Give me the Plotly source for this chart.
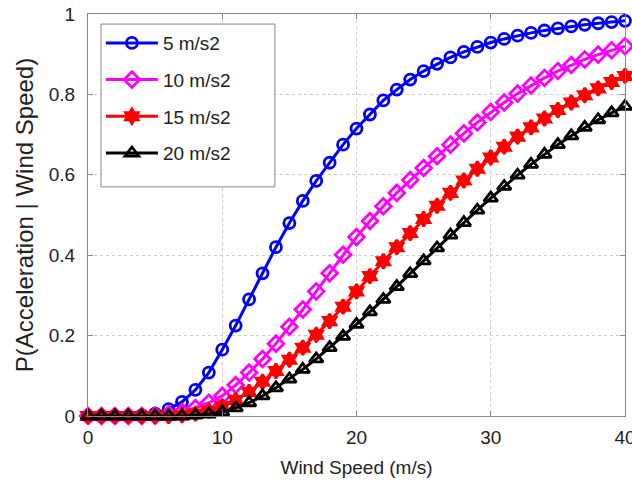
import plotly.graph_objects as go

wind_speed = list(range(0, 41))

acc_5 = [0, 0, 0, 0, 0.002, 0.006, 0.017, 0.035, 0.065, 0.108, 0.165,
         0.225, 0.29, 0.355, 0.42, 0.48, 0.535, 0.585, 0.63, 0.675, 0.715,
         0.75, 0.785, 0.812, 0.837, 0.858, 0.876, 0.892, 0.906, 0.918, 0.929,
         0.938, 0.946, 0.953, 0.959, 0.964, 0.969, 0.973, 0.977, 0.98, 0.983]

acc_10 = [0, 0, 0, 0, 0, 0.001, 0.004, 0.01, 0.02, 0.033, 0.05,
          0.077, 0.108, 0.142, 0.18, 0.222, 0.265, 0.31, 0.355, 0.401, 0.445,
          0.485, 0.522, 0.555, 0.587, 0.617, 0.646, 0.675, 0.703, 0.73, 0.756,
          0.78, 0.802, 0.822, 0.841, 0.858, 0.873, 0.887, 0.899, 0.91, 0.92]

acc_15 = [0, 0, 0, 0, 0, 0, 0, 0.002, 0.006, 0.013, 0.024,
          0.04, 0.06, 0.085, 0.112, 0.14, 0.17, 0.202, 0.236, 0.272, 0.31,
          0.348, 0.385, 0.42, 0.455, 0.49, 0.523, 0.555, 0.586, 0.615, 0.643,
          0.67, 0.695, 0.718, 0.74, 0.761, 0.78, 0.798, 0.815, 0.831, 0.846]

acc_20 = [0, 0, 0, 0, 0, 0, 0, 0, 0.002, 0.005, 0.01,
          0.02, 0.033, 0.05, 0.07, 0.092, 0.116, 0.142, 0.17, 0.198, 0.228,
          0.259, 0.29, 0.322, 0.354, 0.386, 0.418, 0.45, 0.481, 0.512, 0.542,
          0.571, 0.599, 0.626, 0.651, 0.675, 0.697, 0.718, 0.737, 0.754, 0.77]

series_names = ["5 m/s2", "10 m/s2", "15 m/s2", "20 m/s2"]
x_ticks = [0, 10, 20, 30, 40]
y_ticks = [0, 0.2, 0.4, 0.6, 0.8, 1]
y_tick_labels = ["0", "0.2", "0.4", "0.6", "0.8", "1"]

styles = [
    dict(color="#0000FF", symbol="circle-open", size=11),
    dict(color="#FF00FF", symbol="diamond-open", size=12),
    dict(color="#FF0000", symbol="hexagram", size=11),
    dict(color="#000000", symbol="triangle-up-open", size=12),
]

fig = go.Figure()
for i, (name, ys) in enumerate(zip(series_names, [acc_5, acc_10, acc_15, acc_20])):
    st = styles[i]
    fig.add_trace(go.Scatter(
        x=wind_speed, y=ys, name=name, mode="lines+markers",
        legendgroup="g%d" % i,
        cliponaxis=False,
        line=dict(color=st["color"], width=3),
        marker=dict(symbol=st["symbol"], size=st["size"], color=st["color"],
                    line=dict(color=st["color"], width=2.8)),
    ))

font = "Liberation Sans, Arial, sans-serif"
axis_common = dict(
    showline=True, linecolor="#888888", linewidth=1, mirror="all",
    ticks="inside", ticklen=5, tickcolor="#888888",
    showgrid=True, gridcolor="#cccccc", griddash="dot", gridwidth=1,
    zeroline=False, tickfont=dict(family=font, size=19, color="#222222"),
    ticklabeloverflow="allow", automargin=False,
)

fig.update_layout(
    width=632, height=481,
    margin=dict(l=88, r=7, t=14, b=65),
    paper_bgcolor="white", plot_bgcolor="white",
    font=dict(family=font, color="#222222"),
    xaxis=dict(range=[0, 40], tickvals=x_ticks, ticklabelstandoff=4,
               title=dict(text="Wind Speed (m/s)", font=dict(size=19), standoff=13),
               **axis_common),
    yaxis=dict(range=[0, 1], tickvals=y_ticks, ticktext=y_tick_labels,
               ticklabelstandoff=8,
               title=dict(text="P(Acceleration | Wind Speed)", font=dict(size=24), standoff=8),
               **axis_common),
    legend=dict(x=0.024, y=0.975, xanchor="left", yanchor="top",
                bgcolor="rgba(0,0,0,0)", borderwidth=0,
                font=dict(family=font, size=19, color="#222222"),
                itemwidth=52,
                tracegroupgap=9, traceorder="grouped"),
    showlegend=True,
    shapes=[dict(type="rect", xref="paper", yref="paper",
                 x0=0.0242, x1=0.348, y0=0.570, y1=0.975,
                 line=dict(color="#888888", width=1), fillcolor="white",
                 layer="above")],
)

fig.write_html("out.html")
